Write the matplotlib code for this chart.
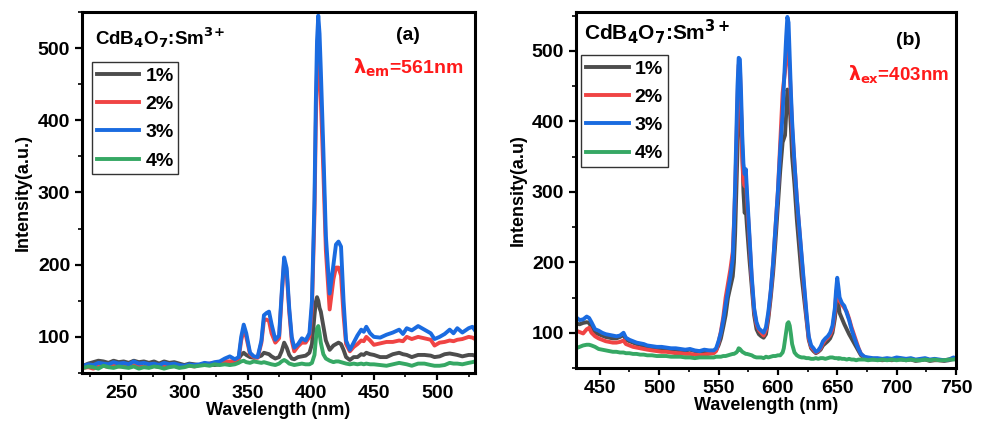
import numpy as np
import matplotlib
matplotlib.use("Agg")
import matplotlib.pyplot as plt
from matplotlib.ticker import MultipleLocator

plt.rcParams['font.family'] = ['Liberation Sans', 'DejaVu Sans']
plt.rcParams['font.weight'] = 'bold'
plt.rcParams['mathtext.default'] = 'bf'

labels = ['1%', '2%', '3%', '4%']
colors = ['#4d4d4d', '#f04444', '#1a6be0', '#36a864']

# ---- (a) excitation spectra, lambda_em = 561 nm
wl_a = [220, 224, 228, 232, 236, 240, 244, 248, 252, 256, 260, 264, 268, 272, 276, 280,
        284, 288, 292, 296, 300, 304, 308, 312, 316, 320, 324, 328, 332, 336, 340,
        343, 345, 347, 349, 352, 355, 358, 361, 363, 365, 367, 369, 372, 375, 377, 379,
        381, 383, 385, 387, 390, 393, 396, 399, 401, 403, 404, 405, 406, 407, 408, 410,
        412, 415, 418, 420, 422, 424, 426, 428, 431, 434, 437, 440, 442, 444, 447, 450,
        455, 460, 465, 470, 473, 476, 480, 485, 490, 495, 498, 502, 506, 510, 513, 516,
        520, 525, 528, 530]

a_1 = [60, 63, 65, 67, 66, 64, 67, 65, 66, 64, 67, 65, 66, 64, 66, 63, 66, 64, 65, 63,
       61, 63, 62, 61, 63, 62, 61, 62, 63, 62, 63,
       70, 75, 78, 75, 72, 71, 72, 74, 78, 77, 76, 73, 70, 72, 80, 92, 85, 75, 70, 69,
       72, 73, 74, 78, 90, 130, 148, 155, 150, 140, 135, 115, 95, 82, 88, 90, 92, 90, 82,
       72, 68, 72, 72, 76, 75, 78, 76, 75,
       72, 72, 76, 78, 76, 75, 72, 75, 75, 74, 72, 73, 76, 77, 76, 75, 73, 75, 75, 74]
a_2 = [57, 58, 56, 59, 60, 58, 61, 59, 60, 58, 61, 60, 59, 58, 60, 58, 61, 59, 60, 58,
       59, 60, 59, 61, 62, 63, 64, 64, 66, 66, 67,
       70, 95, 110, 100, 76, 72, 71, 92, 123, 124, 122, 105, 92, 98, 155, 205, 190, 135,
       95, 80, 87, 92, 92, 100, 140, 270, 390, 470, 490, 470, 430, 330, 220, 138, 180,
       196, 196, 185, 130, 90, 80, 86, 90, 95, 94, 100, 95, 89,
       91, 93, 93, 95, 94, 100, 97, 100, 98, 96, 88, 92, 93, 95, 94, 96, 97, 100, 99, 97]
a_3 = [60, 62, 61, 64, 63, 62, 65, 63, 64, 62, 66, 63, 64, 62, 63, 61, 64, 62, 63, 61,
       60, 62, 61, 62, 64, 63, 65, 66, 70, 73, 69,
       72, 100, 117, 105, 78, 73, 72, 95, 130, 133, 135, 118, 96, 102, 160, 210, 195, 140,
       100, 85, 90, 98, 95, 105, 150, 290, 420, 510, 545, 520, 470, 360, 240, 160, 200,
       228, 232, 225, 150, 95, 82, 92, 102, 110, 107, 114, 105, 100,
       99, 103, 106, 110, 104, 112, 109, 115, 110, 105, 97, 100, 104, 110, 105, 112, 106,
       112, 114, 109]
a_4 = [57, 59, 58, 56, 60, 58, 57, 59, 58, 57, 59, 56, 58, 57, 59, 58, 56, 58, 59, 57,
       58, 60, 59, 60, 61, 60, 62, 61, 62, 61, 62,
       64, 66, 67, 65, 64, 66, 65, 64, 65, 64, 63, 62, 61, 63, 66, 68, 66, 63, 62, 61,
       62, 63, 62, 62, 64, 75, 95, 112, 115, 105, 92, 76, 70, 67, 65, 66, 66, 65, 64,
       63, 62, 63, 62, 63, 62, 63, 62, 62,
       61, 60, 62, 64, 63, 62, 60, 63, 63, 61, 60, 60, 61, 64, 63, 63, 62, 64, 65, 66]

# ---- (b) emission spectra, lambda_ex = 403 nm
wl_b = [430, 433, 436, 439, 441, 443, 446, 449, 452, 455, 458, 461, 464, 467, 470,
        472, 475, 478, 481, 484, 487, 490,
        494, 498, 502, 506, 510, 514, 518, 522, 526, 530, 534, 538, 542, 546,
        548, 550, 552, 554, 556, 558, 560, 562,
        563, 564, 565, 566, 567, 568, 569, 570, 571, 572, 573, 574,
        576, 578, 580, 582, 584, 586, 588, 590, 592, 594, 596, 598, 600, 602, 604,
        605, 606, 607, 608, 609, 610, 611, 612,
        614, 616, 618, 620, 622, 624, 626, 628, 630, 632, 634, 636, 638, 640, 642, 644,
        646, 648,
        649, 650, 651, 652,
        654, 656, 658, 660, 662, 664, 666, 668, 670,
        673, 676, 680, 684, 688, 692, 696, 700, 704, 708, 712, 716, 720, 724, 728, 732,
        736, 740, 744, 748, 750]

b_1 = [113, 112, 114, 115, 114, 108, 100, 98, 96, 94, 93, 92, 92, 94, 97,
       90, 88, 86, 84, 83, 81, 80,
       79, 78, 78, 77, 76, 76, 75, 75, 76, 74, 73, 74, 74, 74,
       75, 82, 92, 108, 125, 150, 165, 180,
       200, 240, 300, 360, 420, 455, 410, 360, 300, 270, 275, 250,
       205, 165, 125, 105, 98, 95, 93, 98, 120, 150, 185, 230, 280, 330, 370,
       375, 380, 410, 445, 440, 420, 390, 350,
       310, 260, 220, 180, 150, 120, 90, 78, 74, 71, 73, 76, 82, 85, 88, 92, 100, 120,
       138, 145, 140, 128,
       120, 112, 105, 98, 92, 86, 80, 74, 68,
       64, 63, 62, 62, 61, 62, 61, 63, 62, 61, 62, 60, 61, 62, 60, 61, 61, 60, 61, 63, 62]
b_2 = [103, 101, 99, 105, 107, 100, 95, 92, 90, 88, 87, 86, 86, 87, 89,
       84, 82, 80, 79, 78, 77, 76,
       75, 74, 73, 73, 72, 71, 71, 70, 70, 69, 68, 69, 70, 71,
       74, 86, 102, 122, 150, 170, 190, 215,
       255, 300, 360, 430, 480, 478, 420, 350, 315, 308, 318, 290,
       235, 175, 132, 112, 104, 100, 96, 104, 125, 158, 198, 248, 300, 370, 440,
       456, 470, 495, 510, 500, 470, 430, 390,
       340, 290, 248, 205, 165, 125, 92, 80, 76, 72, 74, 78, 85, 90, 93, 97, 105, 130,
       152, 165, 158, 145,
       140, 135, 130, 120, 108, 98, 88, 78, 70,
       65, 64, 63, 63, 62, 63, 62, 64, 63, 62, 63, 61, 62, 63, 61, 62, 61, 61, 62, 64, 63]
b_3 = [122, 118, 119, 123, 121, 115, 105, 103, 100, 98, 97, 96, 95, 96, 100,
       93, 90, 88, 86, 85, 84, 82,
       81, 80, 80, 79, 78, 78, 77, 76, 77, 75, 74, 76, 75, 75,
       78, 88, 100, 118, 140, 160, 180, 205,
       250, 310, 380, 450, 490, 488, 440, 380, 340, 325, 332, 300,
       240, 180, 135, 115, 106, 103, 100, 108, 130, 160, 200, 250, 300, 360, 410,
       450, 485, 520, 548, 540, 490, 440, 400,
       340, 290, 250, 210, 170, 130, 95, 82, 78, 73, 75, 80, 88, 92, 95, 100, 110, 135,
       160, 178, 165, 150,
       142, 138, 128, 118, 105, 95, 85, 77, 70,
       66, 65, 64, 64, 63, 64, 63, 65, 64, 63, 64, 62, 63, 64, 62, 63, 62, 61, 62, 65, 63]
b_4 = [78, 80, 82, 83, 83, 82, 80, 77, 76, 75, 74, 73, 73, 72, 72,
       71, 71, 70, 70, 69, 69, 68,
       68, 67, 67, 67, 66, 66, 66, 65, 65, 64, 65, 65, 65, 65,
       66, 66, 66, 67, 67, 68, 69, 70,
       70, 71, 72, 74, 78, 77, 75, 73, 72, 71, 70, 70,
       69, 68, 66, 65, 65, 65, 64, 66, 65, 66, 67, 67, 68, 68, 72,
       78, 90, 103, 113, 115, 110, 98, 84,
       72, 68, 66, 65, 65, 64, 64, 63, 63, 64, 63, 64, 64, 63, 64, 65, 65, 64,
       64, 64, 63, 64,
       63, 63, 62, 63, 62, 62, 61, 62, 62,
       62, 61, 62, 61, 62, 61, 62, 61, 62, 61, 62, 61, 61, 62, 61, 62, 61, 61, 62, 62, 63]

fig = plt.figure(figsize=(9.84, 4.25), dpi=100)
ax1 = fig.add_axes([0.0833, 0.1224, 0.3994, 0.8494])
ax2 = fig.add_axes([0.5854, 0.1341, 0.3861, 0.8377])


def style(ax, xlim, ylim, xmaj, ylabel):
    ax.set_xlim(*xlim)
    ax.set_ylim(*ylim)
    ax.xaxis.set_major_locator(MultipleLocator(xmaj))
    ax.xaxis.set_minor_locator(MultipleLocator(xmaj / 2))
    ax.yaxis.set_major_locator(MultipleLocator(100))
    ax.yaxis.set_minor_locator(MultipleLocator(50))
    for s in ax.spines.values():
        s.set_linewidth(2.2)
    ax.tick_params(which='major', direction='out', length=5, width=1.6, labelsize=14)
    ax.tick_params(which='minor', direction='out', length=3, width=1.2)
    ax.set_xlabel('Wavelength (nm)', fontsize=13, fontweight='bold', labelpad=0)
    ax.set_ylabel(ylabel, fontsize=13, fontweight='bold', labelpad=4)


for ys, c, lab in zip([a_1, a_2, a_3, a_4], colors, labels):
    ax1.plot(wl_a, ys, color=c, lw=2.8, label=lab)
for ys, c, lab in zip([b_1, b_2, b_3, b_4], colors, labels):
    ax2.plot(wl_b, ys, color=c, lw=2.8, label=lab)

style(ax1, (219, 530), (50, 550), 50, 'Intensity(a.u.)')
style(ax2, (430, 750), (50, 555), 50, 'Intensity(a.u)')

ax1.text(0.033, 0.93, r'CdB$_4$O$_7$:Sm$^{3\!+}$', transform=ax1.transAxes,
         fontsize=13.5, fontweight='bold', va='center')
ax2.text(0.022, 0.945, r'CdB$_4$O$_7$:Sm$^{\mathbf{3+}}$', transform=ax2.transAxes,
         fontsize=15, fontweight='bold', va='center')

ax1.text(0.83, 0.935, '(a)', transform=ax1.transAxes, fontsize=14,
         fontweight='bold', ha='center', va='center')
ax2.text(0.874, 0.921, '(b)', transform=ax2.transAxes, fontsize=14,
         fontweight='bold', ha='center', va='center')

ax1.text(0.69, 0.845, r'$\lambda_{em}$=561nm', transform=ax1.transAxes, fontsize=14,
         color='#ff1a1a', fontweight='bold', va='center')
ax2.text(0.716, 0.823, r'$\lambda_{ex}$=403nm', transform=ax2.transAxes, fontsize=13.5,
         color='#ff1a1a', fontweight='bold', va='center')

for ax, anchor in [(ax1, (0.025, 0.861)), (ax2, (0.013, 0.879))]:
    leg = ax.legend(loc='upper left', bbox_to_anchor=anchor, fontsize=14,
                    frameon=True, fancybox=False, edgecolor='black',
                    handlelength=2.2, handletextpad=0.3, labelspacing=0.55,
                    borderpad=0.25, borderaxespad=0)
    leg.get_frame().set_linewidth(1.0)
    for t in leg.get_texts():
        t.set_fontweight('bold')

fig.savefig('out.png', dpi=100)
